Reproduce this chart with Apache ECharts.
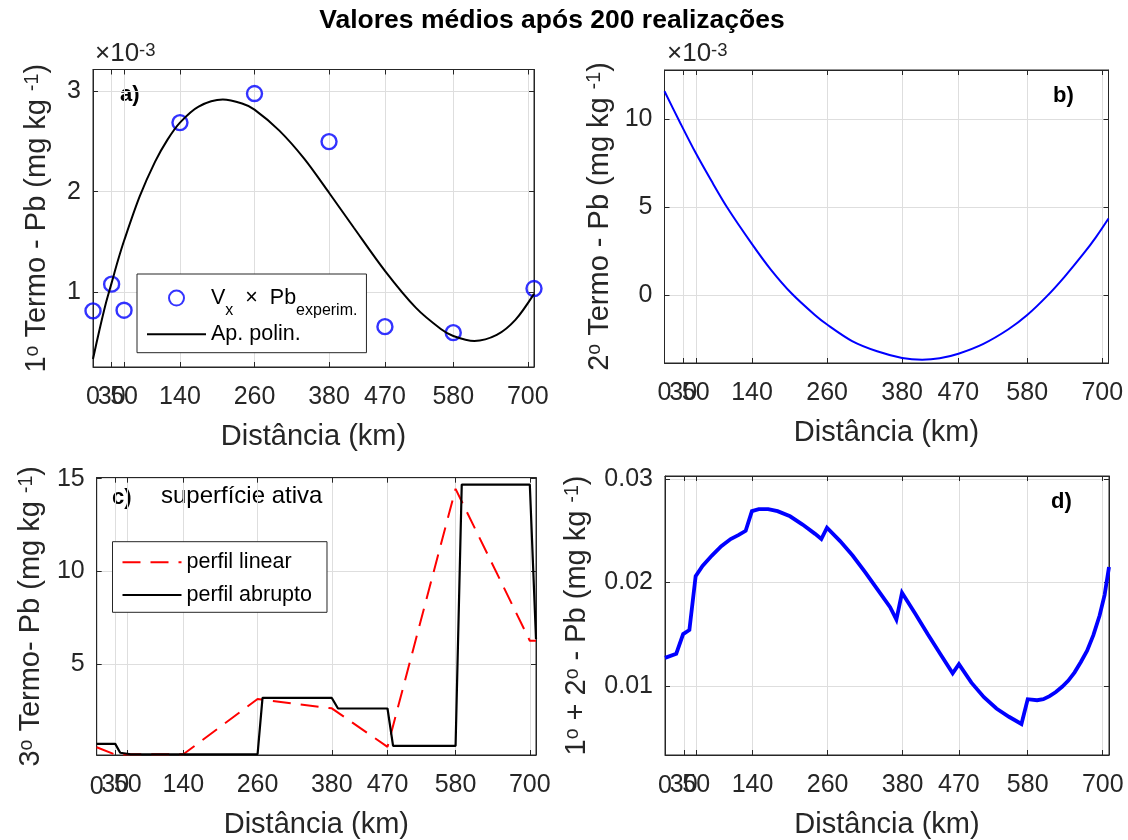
<!DOCTYPE html>
<html><head><meta charset="utf-8">
<script src="https://cdn.jsdelivr.net/npm/echarts@6/dist/echarts.min.js"></script>
<style>html,body{margin:0;padding:0;background:#fff}#c{width:1128px;height:840px}</style>
</head><body><div id="c"></div>
<script>
// ---------- shared axis ----------
const xTicks = [0, 30, 50, 140, 260, 380, 470, 580, 700];
const xMax = 710;

// ---------- a) 1st term (values x 10^-3) ----------
const expX = [0, 30, 50, 140, 260, 380, 470, 580, 710];
const expY = [0.81, 1.077, 0.817, 2.69, 2.98, 2.50, 0.653, 0.593, 1.033];
const fitX = [0, 10, 20, 30, 40, 50, 75, 100, 120, 140, 170, 209, 240, 260, 300, 340, 380, 420, 470, 520, 560, 580, 614, 650, 680, 710];
const fitY = [0.33, 0.61, 0.87, 1.09, 1.31, 1.51, 1.95, 2.30, 2.52, 2.69, 2.85, 2.92, 2.88, 2.82, 2.61, 2.33, 1.99, 1.64, 1.21, 0.84, 0.63, 0.56, 0.51, 0.57, 0.72, 0.98];
const aTicks = [1, 2, 3];

// ---------- b) 2nd term (values x 10^-3) ----------
const bX = [0, 25, 50, 75, 100, 140, 170, 203, 240, 260, 300, 340, 380, 412, 440, 470, 510, 550, 580, 612, 640, 670, 690, 710];
const bY = [11.6, 9.81, 8.08, 6.5, 5.0, 2.9, 1.45, 0.1, -1.12, -1.68, -2.62, -3.2, -3.58, -3.68, -3.6, -3.34, -2.78, -1.95, -1.14, -0.05, 1.05, 2.35, 3.3, 4.36];
const bTicks = [0, 5, 10];

// ---------- c) 3rd term ----------
const linX = [0, 30, 50, 140, 260, 380, 470, 580, 700, 710];
const linY = [0.5, 0.1, 0.12, 0.12, 3.1, 2.6, 0.52, 14.45, 6.25, 6.25];
const abrX = [0, 30, 38, 55, 260, 268, 380, 390, 470, 479, 580, 590, 700, 710];
const abrY = [0.68, 0.68, 0.2, 0.12, 0.12, 3.16, 3.16, 2.59, 2.59, 0.57, 0.57, 14.68, 14.68, 6.34];
const cTicks = [5, 10, 15];

// ---------- d) 1st + 2nd ----------
const dX = [0, 18, 29, 39, 49, 60, 75, 90, 105, 118, 129, 139, 150, 165, 180, 200, 220, 240, 250, 259, 280, 300, 320, 340, 360, 370, 379, 400, 420, 440, 460, 470, 490, 510, 530, 550, 570, 580, 595, 605, 615, 625, 635, 645, 655, 665, 675, 685, 695, 703, 710];
const dY = [0.0127, 0.0131, 0.0150, 0.0154, 0.0206, 0.0216, 0.0226, 0.0235, 0.0242, 0.0246, 0.0250, 0.0269, 0.0271, 0.0271, 0.0269, 0.0264, 0.0256, 0.0247, 0.0242, 0.0253, 0.0240, 0.0226, 0.0210, 0.0193, 0.0176, 0.0164, 0.0190, 0.0170, 0.0150, 0.0131, 0.0112, 0.0121, 0.0103, 0.0089, 0.0078, 0.0070, 0.0063, 0.0087, 0.0086, 0.0087, 0.0090, 0.0094, 0.0099, 0.0105, 0.0113, 0.0123, 0.0134, 0.0149, 0.0168, 0.0188, 0.0215];
const dTicks = [0.01, 0.02, 0.03];

const FONT = '"Liberation Sans", Arial, Helvetica, sans-serif';
const INK = '#262626';
const GRIDC = '#dedede';
const pair = (xs, ys) => xs.map((x, i) => [x, ys[i]]);

const rects = [
  { left: 93, top: 69.5, width: 441, height: 297.5 },
  { left: 664.5, top: 70, width: 444, height: 293 },
  { left: 96.7, top: 477.7, width: 439.3, height: 279 },
  { left: 665, top: 476, width: 444, height: 280 }
];
const grids = rects.map(g => Object.assign({}, g, { show: true, borderColor: INK, borderWidth: 1, backgroundColor: '#fff' }))
  // overlay grids (same rectangles) carrying only the "0" tick label, which overlaps "30"
  .concat(rects.map(g => Object.assign({}, g, { show: false })));

function xBottom(gi) {
  return {
    type: 'value', gridIndex: gi, min: 0, max: xMax, position: 'bottom',
    axisLine: { show: true, onZero: false, lineStyle: { color: INK, width: 1 } },
    axisTick: { show: true, inside: true, length: 5, customValues: xTicks, lineStyle: { color: INK } },
    axisLabel: { customValues: xTicks, color: INK, fontSize: 25, fontFamily: FONT, margin: 18, hideOverlap: false },
    splitLine: { show: true, lineStyle: { color: GRIDC, width: 1 } },
    name: 'Distância (km)', nameLocation: 'middle', nameGap: 55,
    nameTextStyle: { fontSize: 29, color: INK, fontFamily: FONT }
  };
}
function xZero(gi) {
  return {
    type: 'value', gridIndex: gi, min: 0, max: xMax, position: 'bottom',
    axisLine: { show: false, onZero: false }, axisTick: { show: false, customValues: [0] },
    axisLabel: { customValues: [0], showMinLabel: true, color: INK, fontSize: 25, fontFamily: FONT, margin: 18 },
    splitLine: { show: false }
  };
}
function xTop(gi) {
  return {
    type: 'value', gridIndex: gi, min: 0, max: xMax, position: 'top',
    axisLine: { show: true, onZero: false, lineStyle: { color: INK, width: 1 } },
    axisTick: { show: true, inside: true, length: 5, customValues: xTicks, lineStyle: { color: INK } },
    axisLabel: { show: false }, splitLine: { show: false }
  };
}
function yNameRich() {
  return {
    n: { fontSize: 29, fontFamily: FONT, color: INK, lineHeight: 29, verticalAlign: 'bottom' },
    s: { fontSize: 19.5, fontFamily: FONT, color: INK, lineHeight: 19.5, verticalAlign: 'top' }
  };
}
function yLeft(gi, min, max, ticks, name, gap, fmt) {
  return {
    type: 'value', gridIndex: gi, min: min, max: max, position: 'left',
    axisLine: { show: true, onZero: false, lineStyle: { color: INK, width: 1 } },
    axisTick: { show: true, inside: true, length: 5, customValues: ticks, lineStyle: { color: INK } },
    axisLabel: { customValues: ticks, color: INK, fontSize: 25, fontFamily: FONT, margin: 12, formatter: fmt, showMinLabel: true, showMaxLabel: true },
    splitLine: { show: true, lineStyle: { color: GRIDC, width: 1 } },
    name: name, nameLocation: 'middle', nameRotate: 90, nameGap: gap,
    nameTextStyle: { fontFamily: FONT, color: INK, rich: yNameRich() }
  };
}
function yRight(gi, min, max, ticks) {
  return {
    type: 'value', gridIndex: gi, min: min, max: max, position: 'right',
    axisLine: { show: true, onZero: false, lineStyle: { color: INK, width: 1 } },
    axisTick: { show: true, inside: true, length: 5, customValues: ticks, lineStyle: { color: INK } },
    axisLabel: { show: false }, splitLine: { show: false }
  };
}
const yHidden = gi => ({ type: 'value', gridIndex: gi, min: 0, max: 1, show: false });
const intFmt = v => String(Math.round(v));
const d2Fmt = v => v.toFixed(2);
const hiddenSym = { color: 'rgba(0,0,0,0)', borderWidth: 0, borderColor: 'rgba(0,0,0,0)' };

const option = {
  backgroundColor: '#fff',
  animation: false,
  title: {
    text: 'Valores médios após 200 realizações', left: 547, top: 2, textAlign: 'center',
    textStyle: { fontSize: 26.5, fontWeight: 'bold', fontFamily: FONT, color: '#000' }
  },
  grid: grids,
  xAxis: [xBottom(0), xBottom(1), xBottom(2), xBottom(3), xTop(0), xTop(1), xTop(2), xTop(3),
          xZero(4), xZero(5), xZero(6), xZero(7)],
  yAxis: [
    yLeft(0, 0.25, 3.22, aTicks, '{n|1}{s|o}{n| Termo - Pb (mg kg }{s|-1}{n|)}', 41.5, intFmt),
    yLeft(1, -3.87, 12.81, bTicks, '{n|2}{s|o}{n| Termo - Pb (mg kg }{s|-1}{n|)}', 50.5, intFmt),
    yLeft(2, 0.08, 15.05, cTicks, '{n|3}{s|o}{n| Termo- Pb (mg kg }{s|-1}{n|)}', 51.5, intFmt),
    yLeft(3, 0.0033, 0.0303, dTicks, '{n|1}{s|o}{n| + 2}{s|o}{n| - Pb (mg kg }{s|-1}{n|)}', 73.5, d2Fmt),
    yRight(0, 0.25, 3.22, aTicks), yRight(1, -3.87, 12.81, bTicks),
    yRight(2, 0.08, 15.05, cTicks), yRight(3, 0.0033, 0.0303, dTicks),
    yHidden(4), yHidden(5), yHidden(6), yHidden(7)
  ],
  legend: [
    {
      data: ['expA', { name: 'fitA', itemStyle: hiddenSym }], orient: 'vertical', left: 137, top: 274,
      itemWidth: 59, itemHeight: 15, itemGap: 5.2,
      padding: [13.1, 9, 7.4, 9], borderColor: INK, borderWidth: 1, backgroundColor: '#fff',
      formatter: n => n === 'expA' ? '{m|V}{s|x}{m|  ×  Pb}{s|experim.}' : '{m|Ap. polin.}',
      textStyle: {
        color: '#000', fontFamily: FONT, fontSize: 21.5,
        rich: {
          m: { fontSize: 21.5, fontFamily: FONT, color: '#000', lineHeight: 40, verticalAlign: 'middle' },
          s: { fontSize: 16, fontFamily: FONT, color: '#000', lineHeight: 15, verticalAlign: 'bottom' }
        }
      }
    },
    {
      data: [{ name: 'lin', itemStyle: hiddenSym }, { name: 'abr', itemStyle: hiddenSym }], orient: 'vertical', left: 112.5, top: 541.7,
      itemWidth: 59, itemHeight: 15, itemGap: 4.7,
      padding: [6.6, 15, 3.3, 9], borderColor: INK, borderWidth: 1, backgroundColor: '#fff',
      formatter: n => n === 'lin' ? 'perfil linear' : 'perfil abrupto',
      textStyle: { color: '#000', fontFamily: FONT, fontSize: 21.5, lineHeight: 28 }
    }
  ],
  graphic: [
    { type: 'text', x: 95, y: 54, style: { text: '{n|×10}{s|-3}', rich: { n: { fontSize: 26, fontFamily: FONT, fill: INK, lineHeight: 26, verticalAlign: 'bottom' }, s: { fontSize: 18.5, fontFamily: FONT, fill: INK, lineHeight: 18, verticalAlign: 'top' } }, verticalAlign: 'middle' } },
    { type: 'text', x: 667, y: 54, style: { text: '{n|×10}{s|-3}', rich: { n: { fontSize: 26, fontFamily: FONT, fill: INK, lineHeight: 26, verticalAlign: 'bottom' }, s: { fontSize: 18.5, fontFamily: FONT, fill: INK, lineHeight: 18, verticalAlign: 'top' } }, verticalAlign: 'middle' } },
    { type: 'text', x: 120, y: 95, style: { text: 'a)', font: 'bold 22px ' + FONT, fill: '#000', verticalAlign: 'middle' } },
    { type: 'text', x: 1053, y: 96, style: { text: 'b)', font: 'bold 22px ' + FONT, fill: '#000', verticalAlign: 'middle' } },
    { type: 'text', x: 112, y: 498, style: { text: 'c)', font: 'bold 22px ' + FONT, fill: '#000', verticalAlign: 'middle' } },
    { type: 'text', x: 161, y: 496, style: { text: 'superfície ativa', font: '24px ' + FONT, fill: '#000', verticalAlign: 'middle' } },
    { type: 'text', x: 1051, y: 502, style: { text: 'd)', font: 'bold 22px ' + FONT, fill: '#000', verticalAlign: 'middle' } }
  ],
  series: [
    {
      name: 'expA', type: 'scatter', xAxisIndex: 0, yAxisIndex: 0, data: pair(expX, expY),
      symbol: 'circle', symbolSize: 15,
      itemStyle: { color: 'rgba(0,0,0,0)', borderColor: '#0000ff', borderWidth: 2.4 }, z: 3
    },
    {
      name: 'fitA', type: 'line', xAxisIndex: 0, yAxisIndex: 0, data: pair(fitX, fitY),
      symbol: 'none', smooth: 0.3, lineStyle: { color: '#000', width: 2 }, itemStyle: { color: '#000' }, z: 4
    },
    {
      name: 'b', type: 'line', xAxisIndex: 1, yAxisIndex: 1, data: pair(bX, bY),
      symbol: 'none', smooth: 0.3, lineStyle: { color: '#0000ff', width: 2 }
    },
    {
      name: 'lin', type: 'line', xAxisIndex: 2, yAxisIndex: 2, data: pair(linX, linY),
      symbol: 'none', lineStyle: { color: '#ff0000', width: 2, type: [18, 10] }, itemStyle: { color: '#ff0000' }
    },
    {
      name: 'abr', type: 'line', xAxisIndex: 2, yAxisIndex: 2, data: pair(abrX, abrY),
      symbol: 'none', lineStyle: { color: '#000', width: 2.2 }, itemStyle: { color: '#000' }
    },
    {
      name: 'd', type: 'line', xAxisIndex: 3, yAxisIndex: 3, data: pair(dX, dY),
      symbol: 'none', lineStyle: { color: '#0000ff', width: 3.8, join: 'miter' }
    }
  ]
};
const chart = echarts.init(document.getElementById('c'), null, { renderer: 'canvas' });
chart.setOption(option);
</script></body></html>
